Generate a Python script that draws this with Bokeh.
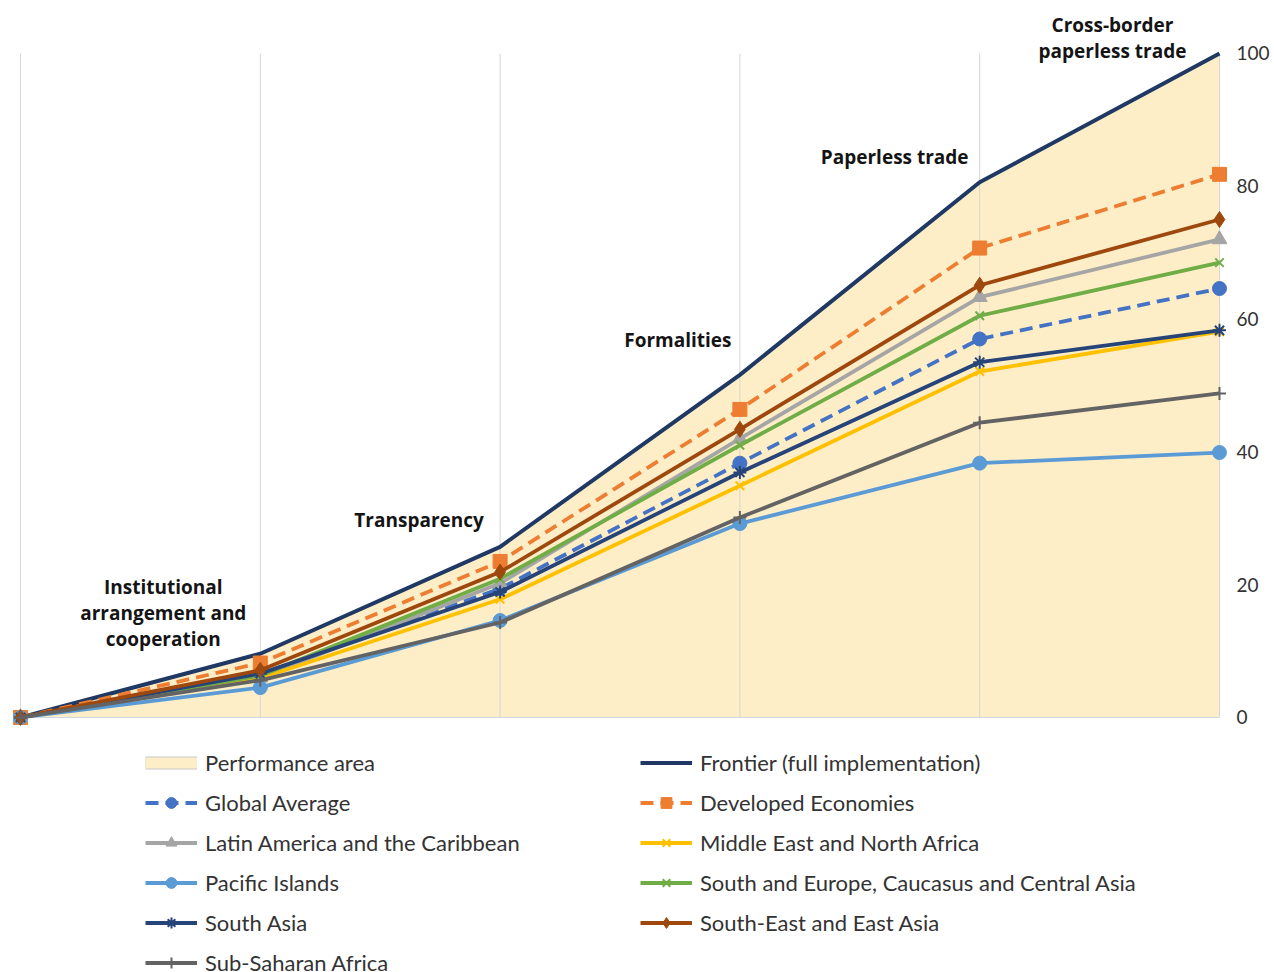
from bokeh.plotting import figure
from bokeh.models import Range1d, FixedTicker, Legend, LegendItem, ColumnDataSource
from bokeh.core.properties import value
from bokeh.embed import file_html
from bokeh.resources import INLINE

# ---------------- data ----------------
stage_x = [0, 1, 2, 3, 4, 5]
stage_labels = ["Institutional\narrangement and\ncooperation", "Transparency", "Formalities",
                "Paperless trade", "Cross-border\npaperless trade"]
frontier = [0, 9.6, 25.7, 51.6, 80.6, 100]
global_avg = [0, 6.5, 19.4, 38.3, 57.0, 64.6]
developed = [0, 8.2, 23.5, 46.4, 70.7, 81.8]
latin = [0, 6.0, 20.2, 42.0, 63.3, 72.0]
mena = [0, 5.9, 17.8, 34.9, 52.1, 58.1]
pacific = [0, 4.5, 14.6, 29.2, 38.3, 39.9]
seca = [0, 6.3, 20.9, 41.0, 60.5, 68.5]
south_asia = [0, 6.6, 18.9, 36.9, 53.5, 58.3]
seea = [0, 7.1, 21.9, 43.4, 65.1, 75.0]
ssa = [0, 5.6, 14.3, 30.1, 44.4, 48.8]
y_ticks = [0, 20, 40, 60, 80, 100]

# ---------------- styles ----------------
FONT = "Lato"
series = [
    # name, values, color, dash, marker, marker size, legend column
    ("Global Average", global_avg, "#4472C4", "13 7", "circle", 14, 1),
    ("Developed Economies", developed, "#ED7D31", "13 7", "square", 14, 2),
    ("Latin America and the Caribbean", latin, "#A5A5A5", "solid", "triangle", 15, 1),
    ("Middle East and North Africa", mena, "#FFC000", "solid", "x", 12, 2),
    ("Pacific Islands", pacific, "#5B9BD5", "solid", "circle", 14, 1),
    ("South and Europe, Caucasus and Central Asia", seca, "#70AD47", "solid", "x", 12, 2),
    ("South Asia", south_asia, "#264478", "solid", "asterisk", 13, 1),
    ("South-East and East Asia", seea, "#9E480E", "solid", "diamond", 16, 2),
    ("Sub-Saharan Africa", ssa, "#636363", "solid", "cross", 13, 1),
]

p = figure(width=1274, height=972, output_backend="svg", toolbar_location=None,
           x_range=Range1d(-0.0834, 5.0334), y_range=Range1d(-38.41, 107.98),
           x_axis_location=None, y_axis_location="right",
           min_border_left=0, min_border_top=0, min_border_right=47, min_border_bottom=0)
p.outline_line_color = None
p.grid.visible = False

# performance area
p.varea(x=stage_x, y1=0, y2=frontier, fill_color="#FDEEC8")

# vertical gridlines and baseline
p.segment(x0=stage_x, y0=0, x1=stage_x, y1=100, line_color="#D6D6D6", line_width=1)
p.segment(x0=[stage_x[0]], y0=[0], x1=[stage_x[-1]], y1=[0], line_color="#CED6E0", line_width=1)

# legend-only renderers for the performance-area swatch (no visible data)
blank = ColumnDataSource(data=dict(x=stage_x, y=[float("nan")] * len(stage_x)))
area_border = p.line(x="x", y="y", source=blank, line_color="#C8C8C8", line_width=13)
area_fill = p.line(x="x", y="y", source=blank, line_color="#FDEEC8", line_width=11)

# frontier
fr = p.line(stage_x, frontier, line_color="#1F3864", line_width=4, line_join="round")

col1 = [LegendItem(label="Performance area", renderers=[area_border, area_fill])]
col2 = [LegendItem(label="Frontier (full implementation)", renderers=[fr])]

for name, vals, color, dash, marker, size, col in series:
    ln = p.line(stage_x, vals, line_color=color, line_width=3.8, line_dash=dash, line_join="round")
    if marker in ("x", "asterisk", "cross"):
        mk = p.scatter(stage_x, vals, marker=marker, size=size, line_color=color, line_width=2,
                       fill_color=color)
    else:
        mk = p.scatter(stage_x, vals, marker=marker, size=size, line_color=color, fill_color=color)
    item = LegendItem(label=name, renderers=[ln, mk])
    (col1 if col == 1 else col2).append(item)

# stage annotations
label_dx = [-97, -81, -62, -85, -107]
label_dy = [-41, -27, -35, -25, -15]
p.text(x=stage_x[1:], y=frontier[1:], text=stage_labels, x_offset=label_dx, y_offset=label_dy,
       text_font=value("Open Sans"), text_font_style="bold", text_font_size="19px",
       text_align="center", text_baseline="middle", text_line_height=1.0, text_color="#141414")

# axis
ax = p.yaxis[0]
ax.ticker = FixedTicker(ticks=y_ticks)
ax.axis_line_color = None
ax.major_tick_line_color = None
ax.minor_tick_line_color = None
ax.major_tick_out = 0
ax.major_tick_in = 0
ax.minor_tick_out = 0
ax.minor_tick_in = 0
ax.major_label_standoff = 9
ax.major_label_text_font = FONT
ax.major_label_text_font_size = "19px"
ax.major_label_text_color = "#333333"

def make_legend(items, loc):
    return Legend(items=items, location=loc, orientation="vertical", padding=0, spacing=13,
                  glyph_width=52, glyph_height=27, label_height=27, label_standoff=8,
                  label_text_font=FONT, label_text_font_size="22px", label_text_color="#333333",
                  border_line_color=None, background_fill_alpha=0, margin=0)

p.add_layout(make_legend(col1, (145, -4)), "center")
p.add_layout(make_legend(col2, (640, 36)), "center")

open("out.html", "w").write(file_html(p, INLINE))
